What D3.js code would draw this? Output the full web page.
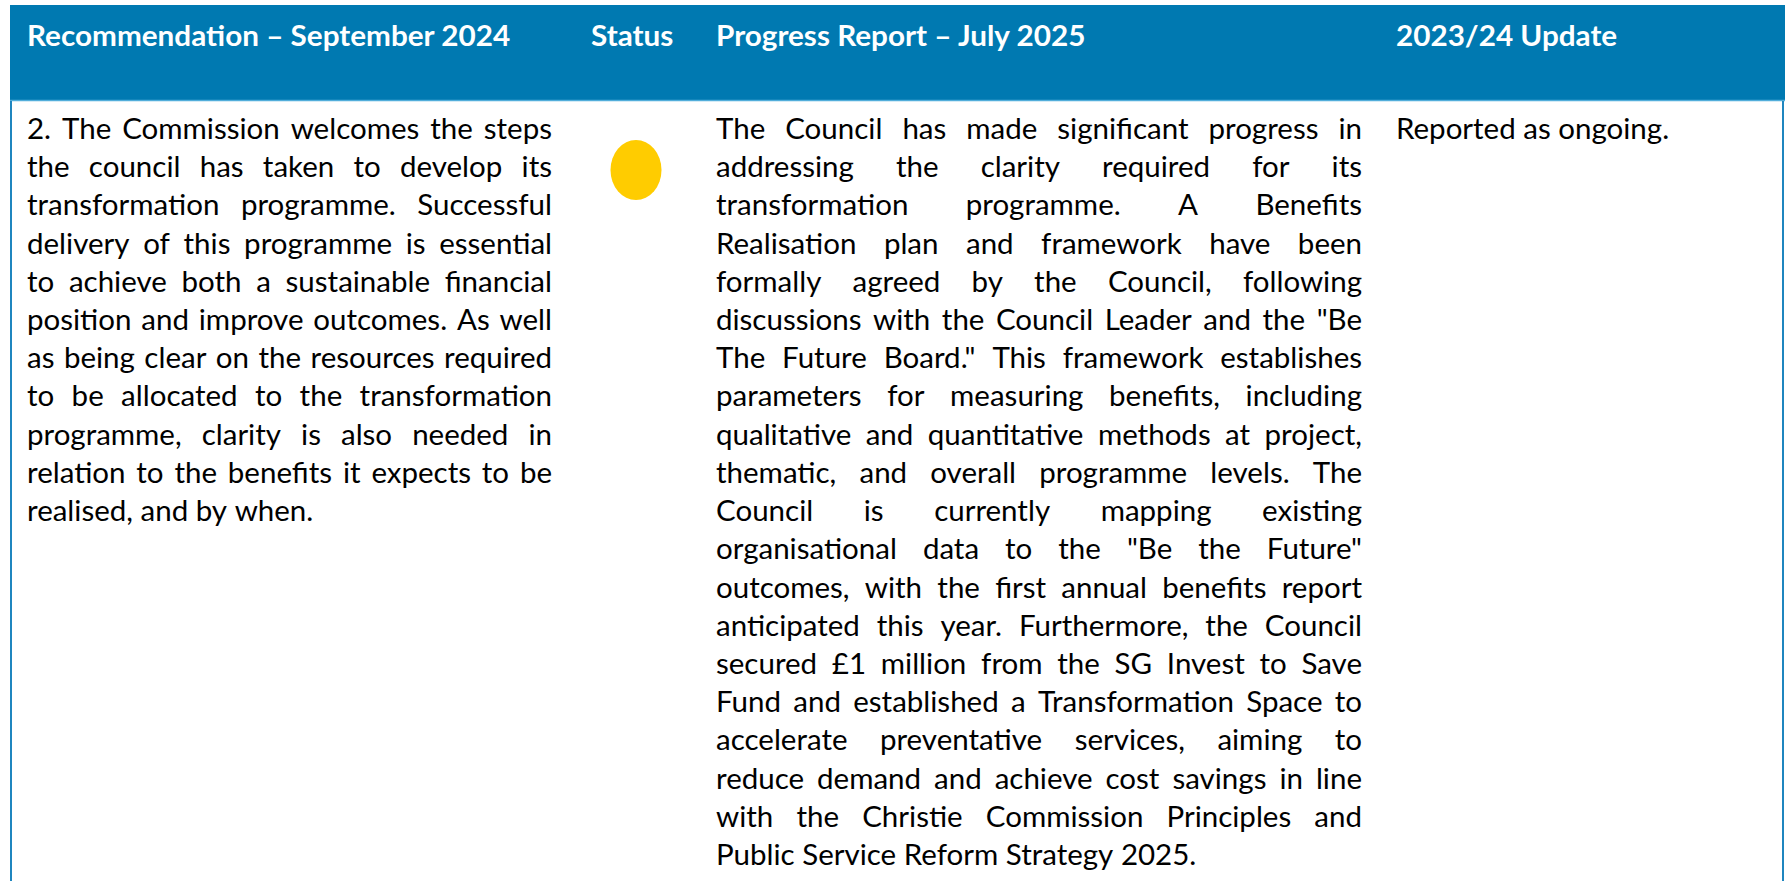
<!DOCTYPE html>
<html>
<head>
<meta charset="utf-8">
<script src="https://cdn.jsdelivr.net/npm/d3@7"></script>
<style>
  html, body { margin: 0; padding: 0; background: #fff; }
  svg { display: block; }
</style>
</head>
<body>
<div id="chart"></div>
<script>
// table content
var headers = ["Recommendation \u2013 September 2024", "Status", "Progress Report \u2013 July 2025", "2023/24 Update"];

var recommendationLines = [
  "2. The Commission welcomes the steps",
  "the council has taken to develop its",
  "transformation programme. Successful",
  "delivery of this programme is essential",
  "to achieve both a sustainable financial",
  "position and improve outcomes. As well",
  "as being clear on the resources required",
  "to be allocated to the transformation",
  "programme, clarity is also needed in",
  "relation to the benefits it expects to be",
  "realised, and by when."
];

var statusValues = ["amber"];

var progressLines = [
  "The Council has made significant progress in",
  "addressing the clarity required for its",
  "transformation programme. A Benefits",
  "Realisation plan and framework have been",
  "formally agreed by the Council, following",
  "discussions with the Council Leader and the \"Be",
  "The Future Board.\" This framework establishes",
  "parameters for measuring benefits, including",
  "qualitative and quantitative methods at project,",
  "thematic, and overall programme levels. The",
  "Council is currently mapping existing",
  "organisational data to the \"Be the Future\"",
  "outcomes, with the first annual benefits report",
  "anticipated this year. Furthermore, the Council",
  "secured \u00a31 million from the SG Invest to Save",
  "Fund and established a Transformation Space to",
  "accelerate preventative services, aiming to",
  "reduce demand and achieve cost savings in line",
  "with the Christie Commission Principles and",
  "Public Service Reform Strategy 2025."
];

var updateLines = ["Reported as ongoing."];

var statusColors = { amber: "#ffcc00" };

function StatusTable(element, width, height) {
  var _table = {};
  var _width = width, _height = height;
  var _font = "Lato, 'Open Sans', sans-serif";
  var _fontSize = 29.5;
  var _headSize = 28;
  var _svg;

  // column layout: text left and right edges
  var _cols = [
    { x0: 27, x1: 552 },
    { x0: 591, x1: 700 },
    { x0: 716, x1: 1362 },
    { x0: 1396, x1: 1760 }
  ];

  var _frame = { left: 10, right: 1783, top: 5, headBottom: 100 };

  // baseline of line i in the body
  var _y = d3.scaleLinear().domain([0, 19]).range([139, 865]);

  _table.render = function() {
    _svg = d3.select(element).append("svg")
      .attr("width", _width)
      .attr("height", _height);

    renderFrame();
    renderHeader();
    renderJustified(recommendationLines, _cols[0]);
    renderJustified(progressLines, _cols[2]);
    renderPlain(updateLines, _cols[3]);
    renderStatus();
    return _table;
  };

  function renderFrame() {
    _svg.append("rect")
      .attr("x", _frame.left)
      .attr("y", _frame.top)
      .attr("width", _frame.right + 2 - _frame.left)
      .attr("height", _frame.headBottom - _frame.top)
      .attr("fill", "#0079b1");

    _svg.append("line")
      .attr("x1", _frame.left).attr("x2", _frame.right + 2)
      .attr("y1", _frame.headBottom + 0.5).attr("y2", _frame.headBottom + 0.5)
      .attr("stroke", "#52aedb").attr("stroke-width", 1.5);

    [_frame.left + 1, _frame.right].forEach(function(x) {
      _svg.append("line")
        .attr("x1", x).attr("x2", x)
        .attr("y1", _frame.headBottom + 1).attr("y2", _height)
        .attr("stroke", "#1f86bf").attr("stroke-width", 2);
    });
  }

  function renderHeader() {
    var t = _svg.append("g").attr("class", "header")
      .selectAll("text")
      .data(headers)
      .join("text")
      .attr("x", function(d, i) { return _cols[i].x0; })
      .attr("y", 46)
      .attr("fill", "#fff")
      .attr("font-family", _font)
      .attr("font-weight", "bold")
      .attr("font-size", _headSize)
      .text(function(d) { return d; });
    // original bold face runs a little wider
    t.attr("textLength", function() { return this.getComputedTextLength() * 1.06; })
      .attr("lengthAdjust", "spacingAndGlyphs");
  }

  function measure(word) {
    var t = _svg.append("text")
      .attr("font-family", _font)
      .attr("font-size", _fontSize)
      .text(word);
    var w = t.node().getComputedTextLength();
    t.remove();
    return w;
  }

  function renderJustified(lines, col) {
    var width = col.x1 - col.x0;
    var space = measure("a b") - measure("ab");
    var rows = lines.map(function(line, i) {
      var words = line.split(" ").map(function(w) { return { text: w, w: measure(w) }; });
      return { words: words, last: i === lines.length - 1, sum: d3.sum(words, function(d) { return d.w; }) };
    });

    // squeeze glyphs if the substitute font runs wider than the original
    var squeeze = d3.min(rows.filter(function(r) { return !r.last; }), function(r) {
      var gaps = r.words.length - 1;
      return Math.min(1, (width - gaps * space * 0.8) / r.sum);
    }) || 1;

    var g = _svg.append("g").attr("class", "body-text");
    rows.forEach(function(r, i) {
      var gaps = r.words.length - 1;
      var gap = r.last ? space * squeeze : (width - r.sum * squeeze) / gaps;
      var x = col.x0;
      r.words.forEach(function(wd) {
        wd.x = x;
        x += wd.w * squeeze + gap;
      });
      g.append("g").selectAll("text")
        .data(r.words)
        .join("text")
        .attr("x", function(d) { return d.x; })
        .attr("y", _y(i))
        .attr("font-family", _font)
        .attr("font-size", _fontSize)
        .attr("fill", "#000")
        .attr("textLength", function(d) { return d.w * squeeze; })
        .attr("lengthAdjust", "spacingAndGlyphs")
        .text(function(d) { return d.text; });
    });
  }

  function renderPlain(lines, col) {
    _svg.append("g").selectAll("text")
      .data(lines)
      .join("text")
      .attr("x", col.x0)
      .attr("y", function(d, i) { return _y(i); })
      .attr("font-family", _font)
      .attr("font-size", _fontSize)
      .attr("fill", "#000")
      .text(function(d) { return d; });
  }

  function renderStatus() {
    _svg.append("g").selectAll("ellipse")
      .data(statusValues)
      .join("ellipse")
      .attr("cx", 636)
      .attr("cy", function(d, i) { return 170 + i * 80; })
      .attr("rx", 25.5)
      .attr("ry", 30)
      .attr("fill", function(d) { return statusColors[d]; });
  }

  return _table;
}

StatusTable("#chart", 1785, 881).render();
</script>
</body>
</html>
